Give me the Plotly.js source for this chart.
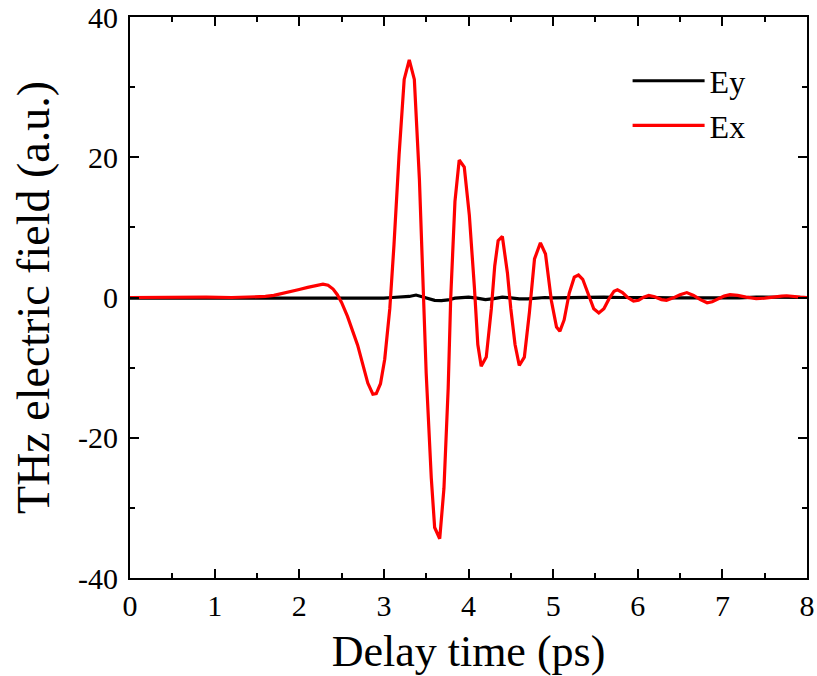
<!DOCTYPE html>
<html>
<head>
<meta charset="utf-8">
<script src="https://cdn.plot.ly/plotly-3.0.1.min.js"></script>
<style>html,body{margin:0;padding:0;background:#fff;}#chart{width:817px;height:676px;}</style>
</head>
<body>
<div id="chart"></div>
<script>
// Delay time (ps) and field values (a.u.)
const exTime = [0.0,0.3,0.6,0.9,1.2,1.5,1.6,1.7,1.8,1.9,2.0,2.1,2.2,2.28,2.34,2.4,2.45,2.5,2.57,2.63,2.69,2.75,2.81,2.87,2.91,2.96,3.01,3.07,3.12,3.18,3.24,3.30,3.36,3.42,3.46,3.50,3.56,3.60,3.66,3.71,3.76,3.79,3.84,3.89,3.95,4.01,4.07,4.11,4.15,4.21,4.27,4.31,4.35,4.40,4.46,4.50,4.55,4.60,4.66,4.72,4.78,4.85,4.91,4.98,5.04,5.08,5.13,5.19,5.25,5.30,5.35,5.42,5.48,5.54,5.60,5.66,5.72,5.76,5.82,5.88,5.95,6.01,6.07,6.13,6.2,6.28,6.34,6.42,6.5,6.58,6.66,6.74,6.82,6.88,6.95,7.02,7.09,7.18,7.28,7.40,7.50,7.60,7.70,7.76,7.85,7.92,8.0];
const exField = [0,0.05,0,0.05,0,0.1,0.15,0.3,0.55,0.85,1.15,1.45,1.75,1.9,1.75,1.2,0.4,-0.7,-2.7,-4.7,-6.8,-9.5,-12.2,-13.8,-13.7,-12.3,-8.8,-1.6,7.6,20.4,31.1,33.9,31.1,16.8,2.5,-10.8,-25.7,-32.8,-34.4,-27.2,-12.9,0,13.7,19.6,18.6,11.7,1.4,-6.7,-9.8,-8.5,-1.6,4.5,8.1,8.7,3.5,-1.6,-6.7,-9.7,-8.5,-2.1,5.5,7.8,6.2,-0.5,-4.2,-4.8,-3.2,0.6,2.9,3.2,2.6,0.3,-1.6,-2.2,-1.6,-0.2,0.9,1.1,0.7,0,-0.5,-0.4,0.05,0.3,0.1,-0.3,-0.4,-0.05,0.4,0.7,0.3,-0.3,-0.75,-0.6,-0.2,0.2,0.4,0.3,0.05,-0.15,-0.1,0.1,0.2,0.25,0.1,0.05,0];

const eyTime = [0,0.2,0.4,0.6,0.8,1.0,1.2,1.4,1.6,1.8,2.0,2.2,2.4,2.6,2.8,3.0,3.1,3.2,3.3,3.38,3.45,3.52,3.6,3.68,3.76,3.84,3.92,4.0,4.1,4.2,4.3,4.4,4.5,4.6,4.7,4.8,4.9,5.0,5.2,5.4,5.6,5.8,6.0,6.2,6.4,6.6,6.8,7.0,7.2,7.4,7.6,7.8,8.0];
const eyField = [-0.1,-0.05,-0.1,-0.05,-0.1,-0.1,-0.05,-0.1,-0.05,-0.1,-0.05,-0.1,-0.15,-0.1,-0.05,-0.1,0.0,0.1,0.15,0.35,0.1,-0.1,-0.4,-0.45,-0.35,-0.1,-0.05,0.05,-0.1,-0.3,-0.15,0.05,-0.05,-0.2,-0.2,-0.1,0.0,-0.05,0.0,0.05,0.05,0.0,0.05,0.0,-0.05,-0.05,-0.1,0.0,-0.05,0.05,0.0,0.05,0.0];

const seriesNames = ["Ey", "Ex"];
const xTickVals = [0,1,2,3,4,5,6,7,8];
const yTickVals = [-40,-20,0,20,40];

const fontFam = "'Liberation Serif', 'Times New Roman', serif";

const traces = [
  {x: eyTime, y: eyField, name: seriesNames[0], type: 'scatter', mode: 'lines',
   line: {color: '#000000', width: 3.2}},
  {x: exTime, y: exField, name: seriesNames[1], type: 'scatter', mode: 'lines',
   line: {color: '#ff0000', width: 3.2}}
];

const axisCommon = {
  showgrid: false, zeroline: false, showline: true, linecolor: '#000', linewidth: 2,
  mirror: 'ticks', ticks: 'inside', ticklen: 9, tickwidth: 2, tickcolor: '#000',
  tickfont: {family: fontFam, size: 30, color: '#000'}
};

const layout = {
  width: 817, height: 676,
  margin: {l: 130, r: 10, t: 17, b: 98},
  paper_bgcolor: '#fff', plot_bgcolor: '#fff',
  showlegend: true,
  legend: {x: 0.735, y: 0.935, xanchor: 'left', yanchor: 'top', bgcolor: 'rgba(0,0,0,0)',
           font: {family: fontFam, size: 32, color: '#000'}, itemwidth: 72, tracegroupgap: 0},
  xaxis: Object.assign({}, axisCommon, {
    range: [0, 8], tickvals: xTickVals, ticktext: xTickVals.map(String),
    minor: {dtick: 0.5, ticks: 'inside', ticklen: 5, tickwidth: 2, tickcolor: '#000'},
    title: {text: 'Delay time (ps)', font: {family: fontFam, size: 44, color: '#000'}, standoff: 16}
  }),
  yaxis: Object.assign({}, axisCommon, {
    range: [-40, 40], tickvals: yTickVals, ticktext: yTickVals.map(String),
    ticklabelstandoff: 4,
    minor: {dtick: 10, ticks: 'inside', ticklen: 5, tickwidth: 2, tickcolor: '#000'},
    title: {text: 'THz electric field (a.u.)', font: {family: fontFam, size: 46, color: '#000'}, standoff: 14}
  })
};

Plotly.newPlot('chart', traces, layout, {staticPlot: true, displayModeBar: false});
</script>
</body>
</html>
